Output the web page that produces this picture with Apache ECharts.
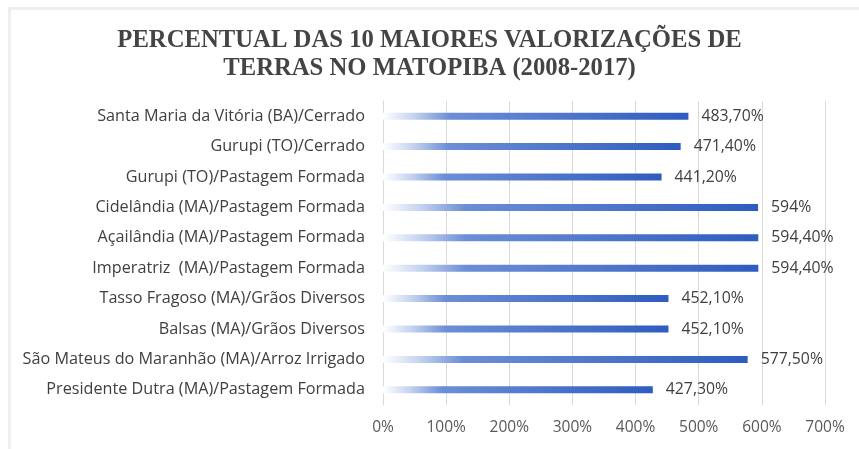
<!DOCTYPE html>
<html><head><meta charset="utf-8">
<script src="https://cdn.jsdelivr.net/npm/echarts@6/dist/echarts.min.js"></script>
<style>html,body{margin:0;padding:0;background:#fff}#c{width:859px;height:449px}</style>
</head><body><div id="c"></div>
<script>
const categories = [
  "Santa Maria da Vitória (BA)/Cerrado",
  "Gurupi (TO)/Cerrado",
  "Gurupi (TO)/Pastagem Formada",
  "Cidelândia (MA)/Pastagem Formada",
  "Açailândia (MA)/Pastagem Formada",
  "Imperatriz  (MA)/Pastagem Formada",
  "Tasso Fragoso (MA)/Grãos Diversos",
  "Balsas (MA)/Grãos Diversos",
  "São Mateus do Maranhão (MA)/Arroz Irrigado",
  "Presidente Dutra (MA)/Pastagem Formada"
];
const values = [483.7, 471.4, 441.2, 594, 594.4, 594.4, 452.1, 452.1, 577.5, 427.3];
const valueLabels = ["483,70%", "471,40%", "441,20%", "594%", "594,40%", "594,40%", "452,10%", "452,10%", "577,50%", "427,30%"];
const titleText = "PERCENTUAL DAS 10 MAIORES VALORIZAÇÕES DE\nTERRAS NO MATOPIBA (2008-2017)";

const chart = echarts.init(document.getElementById('c'), null, {renderer: 'canvas'});
chart.setOption({
  animation: false,
  graphic: [{
    type: 'rect', left: 7, top: 6, shape: {width: 900, height: 500},
    style: {fill: 'none', stroke: '#efefef', lineWidth: 3}, silent: true, z: -1
  }],
  title: {
    text: titleText, left: 'center', top: 22,
    textStyle: {fontFamily: 'Liberation Serif', fontWeight: 'bold', fontSize: 24.7, color: '#444444', lineHeight: 28}
  },
  grid: {left: 383, right: 34, top: 101, bottom: 44, containLabel: false},
  xAxis: {
    type: 'value', min: 0, max: 700, interval: 100,
    axisLabel: {formatter: v => v + '%', color: '#595959', fontFamily: 'Open Sans', fontSize: 15.5, margin: 15},
    axisLine: {show: false}, axisTick: {show: false},
    splitLine: {show: true, lineStyle: {color: '#d9d9d9', width: 1}}
  },
  yAxis: {
    type: 'category', data: categories, inverse: true,
    axisLine: {show: true, lineStyle: {color: '#d9d9d9'}}, axisTick: {show: false},
    axisLabel: {color: '#404040', fontFamily: 'Open Sans', fontSize: 16.2, margin: 18}
  },
  series: [{
    type: 'bar', data: values, barWidth: 7,
    itemStyle: {color: new echarts.graphic.LinearGradient(0, 0, 1, 0, [
      {offset: 0, color: 'rgba(255,255,255,1)'},
      {offset: 0.1, color: '#c5d3f0'},
      {offset: 0.22, color: '#6b8ed6'},
      {offset: 1, color: '#2e5cbf'}
    ])},
    label: {show: true, position: 'right', distance: 13, color: '#404040', fontFamily: 'Open Sans', fontSize: 15.8,
      formatter: p => valueLabels[p.dataIndex]}
  }]
});
</script></body></html>
